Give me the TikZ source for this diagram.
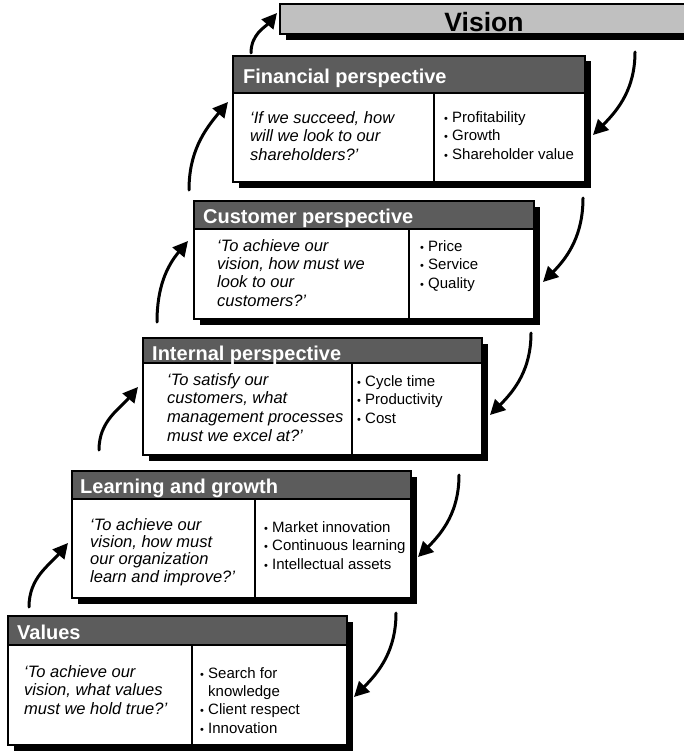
\documentclass[tikz,border=0pt]{standalone}
\usepackage{fontspec}
\setmainfont{Liberation Sans}
\usetikzlibrary{arrows.meta}

\definecolor{hdrgray}{RGB}{92,92,92}
\definecolor{visgray}{RGB}{192,192,192}

% small bullet used in the measure lists
\newcommand{\bl}{\makebox[8pt][l]{\fontsize{11}{11}\selectfont\textbullet}}

% one perspective panel: name, left, top, header bottom, divider x, right, bottom
\newcommand{\panel}[7]{%
  \fill[black] (#2+5.5,-#3-5.5) rectangle (#6+5.5,-#7-5.5);
  \node[headbar, anchor=north west, minimum width={#6-#2}, minimum height={#4-#3}] (#1-head) at (#2,-#3) {};
  \node[cell, anchor=north west, minimum width={#5-#2}, minimum height={#7-#4}] (#1-ask) at (#2,-#4) {};
  \node[cell, anchor=north west, minimum width={#6-#5}, minimum height={#7-#4}] (#1-meas) at (#5,-#4) {};
}

\tikzset{
  headbar/.style={draw=black, line width=1.2pt, fill=hdrgray, inner sep=0pt, outer sep=0pt},
  cell/.style={draw=black, line width=1.2pt, fill=white, inner sep=0pt, outer sep=0pt},
  visbox/.style={draw=black, line width=1.2pt, fill=visgray, inner sep=0pt, outer sep=0pt},
  title/.style={font=\fontsize{20}{24}\selectfont\bfseries, text=white, inner sep=0pt},
  vtitle/.style={font=\fontsize{26.5}{30}\selectfont\bfseries, inner sep=0pt},
  ask/.style={font=\fontsize{16.5}{18.2}\selectfont\itshape, align=left, inner sep=0pt},
  meas/.style={font=\fontsize{15}{18.2}\selectfont, align=left, inner sep=0pt},
  flow/.style={line width=3pt, line cap=round, -{Triangle[length=15pt,width=15pt]}},
}

\begin{document}
\begin{tikzpicture}[x=1pt,y=1pt]
\useasboundingbox (0,0) rectangle (684,-752);
\clip (0,0) rectangle (684,-752);

% Vision banner (runs off the right edge)
\fill[black] (286,-10) rectangle (720,-40);
\node[visbox, anchor=north west, minimum width=440, minimum height=30] (vision) at (280,-4) {};
\node[vtitle, anchor=base] (vision-title) at (484,-32) {Vision};

% panels
\panel{fin}{233}{56}{93}{434}{585}{182}
\panel{cus}{194}{201}{229}{409}{534}{319}
\panel{int}{143}{338}{363}{352}{482}{455}
\panel{lrn}{72}{471}{499}{255}{411}{598}
\panel{val}{8}{616}{645}{192}{347}{745}

% text blocks are anchored on the baseline of their last line

% Financial perspective
\node[title, anchor=base west] (fin-title) at (243,-83) {Financial perspective};
\node[ask, anchor=base west] (fin-q) at (250,-160) {‘If we succeed, how\\will we look to our\\shareholders?’};
\node[meas, anchor=base west] (fin-list) at (444,-159) {\bl Profitability\\\bl Growth\\\bl Shareholder value};

% Customer perspective
\node[title, anchor=base west] (cus-title) at (203,-223) {Customer perspective};
\node[ask, anchor=base west] (cus-q) at (217,-306) {‘To achieve our\\vision, how must we\\look to our\\customers?’};
\node[meas, anchor=base west] (cus-list) at (420,-288) {\bl Price\\\bl Service\\\bl Quality};

% Internal perspective
\node[title, anchor=base west] (int-title) at (152,-360) {Internal perspective};
\node[ask, anchor=base west, font=\fontsize{16.5}{18.6}\selectfont\itshape] (int-q) at (167,-441) {‘To satisfy our\\customers, what\\management processes\\must we excel at?’};
\node[meas, anchor=base west] (int-list) at (357,-423) {\bl Cycle time\\\bl Productivity\\\bl Cost};

% Learning and growth
\node[title, anchor=base west] (lrn-title) at (80,-493) {Learning and growth};
\node[ask, anchor=base west, font=\fontsize{16.5}{17.2}\selectfont\itshape] (lrn-q) at (90,-582) {‘To achieve our\\vision, how must\\our organization\\learn and improve?’};
\node[meas, anchor=base west] (lrn-list) at (264,-569) {\bl Market innovation\\\bl Continuous learning\\\bl Intellectual assets};

% Values
\node[title, anchor=base west] (val-title) at (17,-639) {Values};
\node[ask, anchor=base west] (val-q) at (24,-714) {‘To achieve our\\vision, what values\\must we hold true?’};
\node[meas, anchor=base west] (val-list) at (200,-733) {\bl Search for\\\hspace*{8pt}knowledge\\\bl Client respect\\\bl Innovation};

% arrow ends: downward flow on the right
\coordinate (d1s) at (635,-52);  \coordinate (d1t) at (593,-135);
\coordinate (d2s) at (583,-198); \coordinate (d2t) at (543,-282);
\coordinate (d3s) at (531,-333); \coordinate (d3t) at (490,-415);
\coordinate (d4s) at (459,-475); \coordinate (d4t) at (418,-557);
\coordinate (d5s) at (396,-613); \coordinate (d5t) at (354,-697);
% arrow ends: upward flow on the left
\coordinate (u1s) at (29,-607);  \coordinate (u1t) at (68,-543);
\coordinate (u2s) at (99,-450);  \coordinate (u2t) at (138,-387);
\coordinate (u3s) at (157,-322); \coordinate (u3t) at (188,-241);
\coordinate (u4s) at (189,-190); \coordinate (u4t) at (228,-102);
\coordinate (u5s) at (251,-53);  \coordinate (u5t) at (277,-13);

\foreach \i in {1,...,5} {
  \draw[flow] (d\i s) to[out=-90, in=45] (d\i t);
  \draw[flow] (u\i s) to[out=90, in=230] (u\i t);
}
\end{tikzpicture}
\end{document}
